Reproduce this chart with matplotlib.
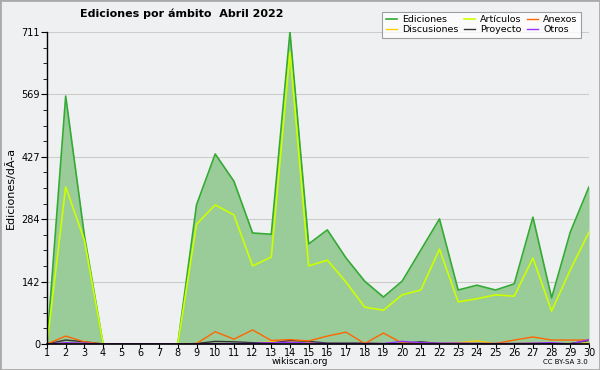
import numpy as np
import matplotlib
matplotlib.use("Agg")
import matplotlib.pyplot as plt
from matplotlib.patches import Rectangle

days = list(range(1, 31))
ediciones = [0, 565, 248, 0, 0, 0, 0, 0, 317, 433, 371, 253, 250, 711, 228,
             260, 196, 143, 107, 143, 214, 285, 123, 134, 123, 137, 289, 105, 255, 358]
articulos = [0, 358, 237, 0, 0, 0, 0, 0, 273, 317, 294, 178, 198, 665, 178,
             191, 141, 84, 77, 112, 123, 216, 96, 103, 112, 109, 196, 75, 169, 255]
anexos = [0, 18, 5, 0, 0, 0, 0, 0, 1, 28, 11, 32, 8, 10, 7,
          18, 27, 1, 25, 2, 2, 1, 1, 1, 1, 9, 16, 9, 9, 9]
discusiones = [0, 2, 1, 0, 0, 0, 0, 0, 0, 1, 1, 1, 5, 5, 3,
               1, 1, 1, 1, 1, 1, 1, 3, 7, 1, 1, 2, 1, 1, 2]
proyecto = [0, 9, 5, 0, 0, 0, 0, 0, 1, 6, 5, 3, 2, 8, 6,
            2, 2, 2, 1, 1, 5, 1, 1, 1, 1, 1, 1, 1, 1, 8]
otros = [0, 3, 2, 0, 0, 0, 0, 0, 0, 1, 1, 1, 3, 4, 2,
         1, 1, 1, 1, 6, 3, 2, 2, 1, 1, 1, 2, 3, 0, 10]

yticks = [0, 142, 284, 427, 569, 711]

bg = "#eff0f1"
fig = plt.figure(figsize=(6, 3.7), dpi=100, facecolor=bg)
ax = fig.add_axes([47 / 600, 26 / 370, 542 / 600, 312 / 370])
ax.set_facecolor(bg)

ax.fill_between(days, ediciones, 0, color="#99cc99", lw=0)
ax.plot(days, ediciones, color="#33aa33", lw=1.2, label="Ediciones")
ax.plot(days, discusiones, color="#ffcc00", lw=1, label="Discusiones")
ax.plot(days, articulos, color="#ccff00", lw=1.2, label="Artículos")
ax.plot(days, proyecto, color="#333333", lw=1, label="Proyecto")
ax.plot(days, anexos, color="#ff6600", lw=1, label="Anexos")
ax.plot(days, otros, color="#9933ff", lw=1, label="Otros")

ax.set_xlim(1, 30)
ax.set_ylim(0, 711)
ax.set_xticks(days)
ax.set_yticks(yticks)
ax.set_yticks(np.arange(0, 711, 711 / 20), minor=True)
ax.tick_params(axis="both", labelsize=7, length=4, width=0.8, pad=1)
ax.tick_params(axis="x", length=3, pad=0)
ax.tick_params(axis="y", which="minor", length=3)
ax.grid(axis="y", color="#cccccc", lw=0.8)
ax.set_axisbelow(True)
for s in ["top", "right"]:
    ax.spines[s].set_visible(False)
ax.spines["left"].set_linewidth(1)
ax.spines["bottom"].set_linewidth(1.2)

ax.set_ylabel("Ediciones/dÃ-a", fontsize=8, labelpad=4)

fig.text(182 / 600, 1 - 14 / 370, "Ediciones por ámbito  Abril 2022",
         ha="center", va="center", fontsize=8, fontweight="bold")
fig.text(300 / 600, 1 - 362 / 370, "wikiscan.org", ha="center", va="center", fontsize=6.5)
fig.text(565 / 600, 1 - 362 / 370, "CC BY-SA 3.0", ha="center", va="center", fontsize=5)

leg = fig.legend(loc="upper right", bbox_to_anchor=(586 / 600, 1 - 7 / 370), ncol=3,
                 fontsize=6.8, frameon=True, fancybox=False, handlelength=1.2,
                 columnspacing=0.6, handletextpad=0.5, labelspacing=0.1,
                 borderpad=0.4)
leg.get_frame().set_edgecolor("#888888")
leg.get_frame().set_facecolor("white")
leg.get_frame().set_linewidth(0.8)

fig.patches.append(Rectangle((0, 0), 1, 1, transform=fig.transFigure, fill=False,
                             edgecolor="#aaaaaa", lw=2))

fig.savefig("out.png", dpi=100, facecolor=bg)
